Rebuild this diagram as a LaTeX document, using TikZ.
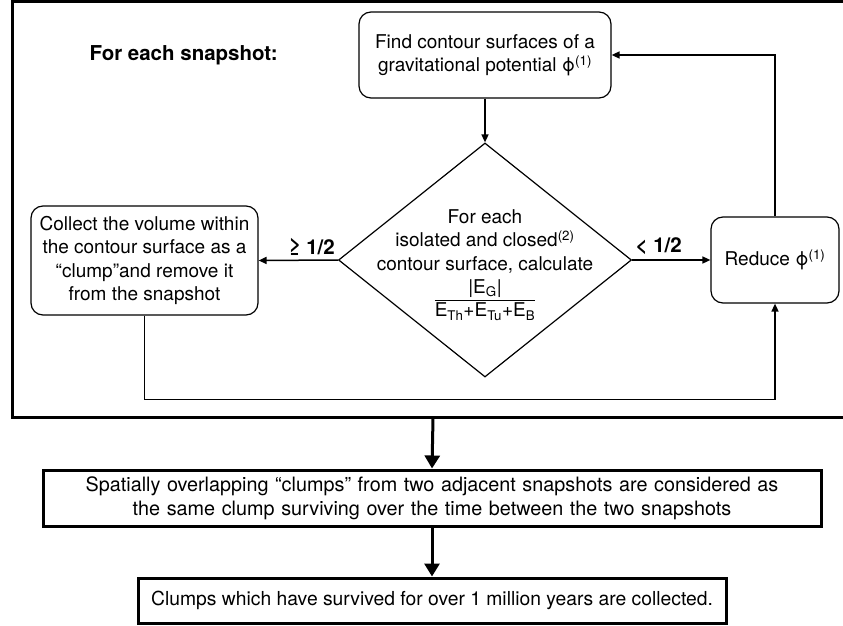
\documentclass[tikz,border=0pt]{standalone}
\usepackage{fontspec}
\setmainfont{TeX Gyre Heros}
\usetikzlibrary{shapes.geometric,arrows.meta}

\newcommand{\bodyfont}{\fontsize{19}{23.5}\selectfont}
\newcommand{\trackfont}{\fontsize{19.8}{24}\selectfont}

\begin{document}
\begin{tikzpicture}[x=1pt,y=1pt,
    font=\bodyfont,
    box/.style={draw,rounded corners=12pt,line width=1.2pt,align=center,inner sep=0pt},
    decision/.style={draw,diamond,line width=1.2pt,minimum width=293pt,minimum height=234pt,inner sep=0pt},
    bigbox/.style={draw,line width=3pt,align=center,inner sep=0pt},
    link/.style={line width=1.5pt,-{Triangle[length=8pt,width=7pt]}},
    fatlink/.style={line width=3pt,-{Triangle[length=13pt,width=15pt]}},
    answer/.style={font=\fontsize{20.5}{24}\selectfont\bfseries}
  ]
    \useasboundingbox (0,0) rectangle (843,-626);
    % frame for one snapshot
    \node[draw,line width=3pt,minimum width=842pt,minimum height=415.5pt,inner sep=0pt] (frame) at (433,-209.25) {};
    \node[answer,anchor=west] (title) at (86,-55) {For each snapshot:};
    \node[box,minimum width=252pt,minimum height=86pt] (find) at (485,-55) {Find contour surfaces of a\\gravitational potential ϕ\textsuperscript{(1)}};
    \node[decision] (test) at (485,-260) {};
    \node[align=center] (ratio) at (485,-265) {For each\\isolated and closed\textsuperscript{(2)}\\contour surface, calculate\\[5pt]
      $\displaystyle\frac{\hbox{|E\textsubscript{G}|}}{\hbox{E\textsubscript{Th}+E\textsubscript{Tu}+E\textsubscript{B}}}$};
    \node[box,minimum width=227pt,minimum height=109pt] (collect) at (144.5,-260.5) {Collect the volume within\\the contour surface as a\\“clump”and remove it\\from the snapshot};
    \node[box,minimum width=128pt,minimum height=86pt] (reduce) at (775,-260) {Reduce ϕ\textsuperscript{(1)}};
    \draw[link] (find.south) -- (test.north);
    \draw[link] (test.west) -- node[answer,pos=0.33,above=1pt] {≥ 1/2} (collect.east);
    \draw[link] (test.east) -- node[answer,pos=0.34,above=1pt] {< 1/2} (reduce.west);
    \draw[link] (collect.south) -- ++(0,-84) -| (reduce.south);
    \draw[link] (reduce.north) |- (find.east);
    % tracking over snapshots
    \node[bigbox,font=\trackfont,text width=772pt,minimum width=778pt,minimum height=56pt] (overlap) at (432,-498) {Spatially overlapping “clumps” from two adjacent snapshots are considered as\\the same clump surviving over the time between the two snapshots};
    \node[bigbox,font=\fontsize{19.3}{24}\selectfont,minimum width=588pt,minimum height=45pt] (survive) at (432,-600.5) {Clumps which have survived for over 1 million years are collected.};
    \draw[fatlink] (frame.south) -- (overlap.north);
    \draw[fatlink] (overlap.south) -- (survive.north);
\end{tikzpicture}
\end{document}
